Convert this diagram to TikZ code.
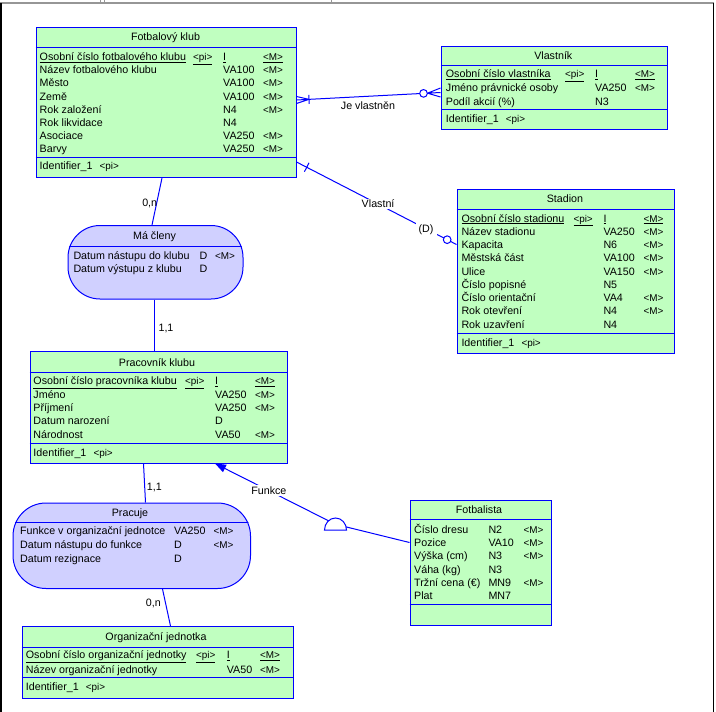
\documentclass[tikz,border=0pt]{standalone}
\usepackage{fontspec}
\setmainfont{Liberation Sans}
\usetikzlibrary{calc,arrows.meta}

\definecolor{erblue}{RGB}{0,0,255}
\definecolor{entfill}{RGB}{192,255,192}
\definecolor{ascfill}{RGB}{208,208,255}
\definecolor{framegray}{RGB}{150,150,150}

\newcommand\erfont{\fontsize{10.7pt}{13pt}\selectfont}
\newcommand\tagfont{\fontsize{9.9pt}{12pt}\selectfont}

\tikzset{
  every node/.style={inner sep=0pt, text height=7.7pt, text depth=0pt, font=\erfont},
  ent/.style={rectangle, draw=erblue, fill=entfill, line width=1pt, anchor=north west},
  asc/.style={rectangle, draw=erblue, fill=ascfill, line width=1pt, anchor=north west, rounded corners=32pt},
  ttl/.style={anchor=center},
  attr/.style={anchor=west},
  sepline/.style={draw=erblue, line width=1pt},
  link/.style={draw=erblue, line width=1pt},
  lbl/.style={fill=white, inner sep=1.5pt, anchor=center},
  card/.style={anchor=center},
  ring/.style={circle, draw=erblue, fill=white, line width=1pt, minimum size=7pt},
}

% one attribute row: id, y, x name, name, x type, type, x tag, tag
\newcommand\errow[8]{%
  \node[attr] (#1-n) at (#3,{#2}) {#4};
  \node[attr] (#1-t) at (#5,{#2}) {#6};
  \node[attr,font=\tagfont] (#1-m) at (#7,{#2}) {#8};}
% primary identifier row: id, y, x name, name, x pi, x type, x tag
\newcommand\keyrow[7]{%
  \node[attr] (#1-n) at (#3,{#2}) {\underline{#4}};
  \node[attr,font=\tagfont] (#1-p) at (#5,{#2}) {\underline{<pi>}};
  \node[attr] (#1-t) at (#6,{#2}) {\underline{I}};
  \node[attr,font=\tagfont] (#1-m) at (#7,{#2}) {\underline{<M>}};}
% identifier list row: id, y, x
\newcommand\idrow[3]{%
  \node[attr] (#1-n) at (#3,{#2}) {Identifier\_1};
  \node[attr,font=\tagfont] (#1-p) at ({#3+60},{#2}) {<pi>};}

\begin{document}
\begin{tikzpicture}[x=1pt,y=-1pt]
\useasboundingbox (0,0) rectangle (716,712);
\fill[white] (0,0) rectangle (716,712);

% window frame
\draw[framegray, line width=1.6pt] (0,3.2) -- (713.5,3.2);
\draw[framegray, line width=0.8pt] (100.5,0) -- (100.5,3) (104,0) -- (104,3) (331.5,0) -- (331.5,3);
\draw[black, line width=1.5pt] (0.75,3) -- (0.75,712);
\draw[black, line width=1.2pt] (713.3,3) -- (713.3,712);

% ---------- Fotbalový klub ----------
\node[ent, minimum width=260pt, minimum height=150.5pt] (fk) at (35.5,26.5) {};
\node[ttl] (fk-title) at (165.5,37) {Fotbalový klub};
\draw[sepline] ([yshift=-21pt]fk.north west) -- ([yshift=-21pt]fk.north east);
\draw[sepline] ([yshift=-131pt]fk.north west) -- ([yshift=-131pt]fk.north east);
\keyrow{fk-k}{56.7}{39.5}{Osobní číslo fotbalového klubu}{193}{223}{263}
\foreach \nm/\ty/\mm [count=\i] in {Název fotbalového klubu/VA100/<M>, Město/VA100/<M>, Země/VA100/<M>, Rok založení/N4/<M>, Rok likvidace/N4/{}, Asociace/VA250/<M>, Barvy/VA250/<M>}
  {\errow{fk-a\i}{56.7+13.2*\i}{39.5}{\nm}{223}{\ty}{263}{\mm}}
\idrow{fk-id}{165.7}{39.5}

% ---------- Vlastník ----------
\node[ent, minimum width=226pt, minimum height=83.5pt] (vl) at (440.5,45.5) {};
\node[ttl] (vl-title) at (553.3,55.5) {Vlastník};
\draw[sepline] ([yshift=-20pt]vl.north west) -- ([yshift=-20pt]vl.north east);
\draw[sepline] ([yshift=-64pt]vl.north west) -- ([yshift=-64pt]vl.north east);
\keyrow{vl-k}{74}{445.7}{Osobní číslo vlastníka}{565}{595}{635}
\foreach \nm/\ty/\mm [count=\i] in {Jméno právnické osoby/VA250/<M>, Podíl akcií (\%)/N3/{}}
  {\errow{vl-a\i}{74+13.6*\i}{445.7}{\nm}{595}{\ty}{635}{\mm}}
\idrow{vl-id}{118.7}{445.7}

% ---------- Stadion ----------
\node[ent, minimum width=217pt, minimum height=164pt] (st) at (456.5,188.5) {};
\node[ttl] (st-title) at (565,199) {Stadion};
\draw[sepline] ([yshift=-21pt]st.north west) -- ([yshift=-21pt]st.north east);
\draw[sepline] ([yshift=-145pt]st.north west) -- ([yshift=-145pt]st.north east);
\keyrow{st-k}{218.3}{461.3}{Osobní číslo stadionu}{573.3}{603.3}{643.3}
\foreach \nm/\ty/\mm [count=\i] in {Název stadionu/VA250/<M>, Kapacita/N6/<M>, Městská část/VA100/<M>, Ulice/VA150/<M>, Číslo popisné/N5/{}, Číslo orientační/VA4/<M>, Rok otevření/N4/<M>, Rok uzavření/N4/{}}
  {\errow{st-a\i}{218.3+13.25*\i}{461.3}{\nm}{603.3}{\ty}{643.3}{\mm}}
\idrow{st-id}{342.7}{461.3}

% ---------- Má členy ----------
\node[asc, minimum width=175pt, minimum height=73.5pt] (mc) at (67.5,225) {};
\begin{scope}
  \clip[rounded corners=32pt] (mc.north west) rectangle (mc.south east);
  \draw[sepline] ([yshift=-21.5pt]mc.north west) -- ([yshift=-21.5pt]mc.north east);
\end{scope}
\node[ttl] (mc-title) at (154.5,236) {Má členy};
\errow{mc-a1}{255.7}{73.3}{Datum nástupu do klubu}{199.3}{D}{215}{<M>}
\errow{mc-a2}{268.7}{73.3}{Datum výstupu z klubu}{199.3}{D}{215}{}

% ---------- Pracovník klubu ----------
\node[ent, minimum width=257pt, minimum height=111.5pt] (pk) at (29.5,351) {};
\node[ttl] (pk-title) at (157,362.3) {Pracovník klubu};
\draw[sepline] ([yshift=-21.5pt]pk.north west) -- ([yshift=-21.5pt]pk.north east);
\draw[sepline] ([yshift=-92.5pt]pk.north west) -- ([yshift=-92.5pt]pk.north east);
\keyrow{pk-k}{381}{33.3}{Osobní číslo pracovníka klubu}{185}{215}{255}
\foreach \nm/\ty/\mm [count=\i] in {Jméno/VA250/<M>, Příjmení/VA250/<M>, Datum narození/D/{}, Národnost/VA50/<M>}
  {\errow{pk-a\i}{381+13.3*\i}{33.3}{\nm}{215}{\ty}{255}{\mm}}
\idrow{pk-id}{452.3}{33.3}

% ---------- Pracuje ----------
\node[asc, minimum width=237.5pt, minimum height=85.5pt, rounded corners=33pt] (pr) at (12.5,502.5) {};
\begin{scope}
  \clip[rounded corners=33pt] (pr.north west) rectangle (pr.south east);
  \draw[sepline] ([yshift=-20pt]pr.north west) -- ([yshift=-20pt]pr.north east);
\end{scope}
\node[ttl] (pr-title) at (130,512.3) {Pracuje};
\foreach \nm/\ty/\mm [count=\i from 0] in {Funkce v organizační jednotce/VA250/<M>, Datum nástupu do funkce/D/<M>, Datum rezignace/D/{}}
  {\errow{pr-a\i}{531+13.65*\i}{20}{\nm}{174}{\ty}{213.3}{\mm}}

% ---------- Fotbalista ----------
\node[ent, minimum width=141pt, minimum height=124.5pt] (fb) at (409.5,500) {};
\node[ttl] (fb-title) at (479,510) {Fotbalista};
\draw[sepline] ([yshift=-19.5pt]fb.north west) -- ([yshift=-19.5pt]fb.north east);
\draw[sepline] ([yshift=-104.5pt]fb.north west) -- ([yshift=-104.5pt]fb.north east);
\foreach \nm/\ty/\mm [count=\i from 0] in {Číslo dresu/N2/<M>, Pozice/VA10/<M>, Výška (cm)/N3/<M>, Váha (kg)/N3/{}, Tržní cena (€)/MN9/<M>, Plat/MN7/{}}
  {\errow{fb-a\i}{529.3+13.34*\i}{414}{\nm}{488.3}{\ty}{523.3}{\mm}}

% ---------- Organizační jednotka ----------
\node[ent, minimum width=271pt, minimum height=71.5pt] (oj) at (21.5,626) {};
\node[ttl] (oj-title) at (156,637) {Organizační jednotka};
\draw[sepline] ([yshift=-21.5pt]oj.north west) -- ([yshift=-21.5pt]oj.north east);
\draw[sepline] ([yshift=-51.5pt]oj.north west) -- ([yshift=-51.5pt]oj.north east);
\keyrow{oj-k}{655}{25.7}{Osobní číslo organizační jednotky}{196}{226.7}{260}
\errow{oj-a1}{669.3}{25.7}{Název organizační jednotky}{226.7}{VA50}{260}{<M>}
\idrow{oj-id}{686.7}{25.7}

% ---------- Fotbalový klub -- Má členy -- Pracovník klubu ----------
\draw[link] ([xshift=126.5pt]fk.south west) -- ([xshift=84.5pt]mc.north west);
\node[card] (c-fk) at (149.7,202.7) {0,n};
\draw[link] ([xshift=87pt]mc.south west) -- ([xshift=125pt]pk.north west);
\node[card] (c-pk1) at (166,327.3) {1,1};

% ---------- Pracovník klubu -- Pracuje -- Organizační jednotka ----------
\draw[link] ([xshift=114pt]pk.south west) -- ([xshift=133pt]pr.north west);
\node[card] (c-pk2) at (154.3,486.7) {1,1};
\draw[link] ([xshift=150pt]pr.south west) -- ([xshift=149pt]oj.north west);
\node[card] (c-oj) at (153.3,602.7) {0,n};

% ---------- Je vlastněn ----------
\coordinate (jv-a) at ([yshift=-73.5pt]fk.north east);
\coordinate (jv-b) at ([yshift=-47pt]vl.north west);
\coordinate (jv-fa) at ($(jv-a)!12.5pt!(jv-b)$);
\coordinate (jv-o) at ($(jv-b)!17pt!(jv-a)$);
\coordinate (jv-fb) at ($(jv-b)!13pt!(jv-a)$);
\draw[link] (jv-fa) -- (jv-o);
\draw[link] (jv-fa) -- ([yshift=3.5pt]jv-a) (jv-fa) -- (jv-a) (jv-fa) -- ([yshift=-3.5pt]jv-a);
\draw[link] ($(jv-fa)!4.5pt!90:(jv-b)$) -- ($(jv-fa)!4.5pt!-90:(jv-b)$);
\draw[link] (jv-fb) -- ([yshift=4.5pt]jv-b) (jv-fb) -- (jv-b) (jv-fb) -- ([yshift=-4.5pt]jv-b);
\node[ring] (jv-ring) at (jv-o) {};
\node[card] (jv-l) at (368,106) {Je vlastněn};

% ---------- Vlastní ----------
\coordinate (vs-a) at ([yshift=-135.5pt]fk.north east);
\coordinate (vs-b) at ([yshift=-56pt]st.north west);
\coordinate (vs-t) at ($(vs-a)!11.5pt!(vs-b)$);
\draw[link] (vs-a) -- (vs-b);
\draw[link] ($(vs-t)!5pt!90:(vs-b)$) -- ($(vs-t)!5pt!-90:(vs-b)$);
\node[lbl] (vs-l) at ($(vs-a)!0.51!(vs-b)$) {Vlastní};
\node[lbl, inner sep=3pt] (vs-d) at ($(vs-a)!0.81!(vs-b)$) {(D)};
\node[ring] (vs-ring) at ($(vs-b)!10.5pt!(vs-a)$) {};

% ---------- Funkce (Fotbalista is a Pracovník klubu) ----------
\coordinate (fu-a) at ([xshift=-72.5pt]pk.south east);
\coordinate (fu-b) at ([yshift=-42.5pt]fb.north west);
\coordinate (fu-c) at (335.5,524.3);
\draw[link] (fu-b) -- (fu-c);
\draw[link, -{Triangle[length=11pt,width=8pt]}] (fu-c) -- (fu-a);
\node[lbl] (fu-l) at ($(fu-a)!0.447!(fu-c)$) {Funkce};
\draw[link, fill=white] ([xshift=-11pt,yshift=-5.7pt]fu-c) arc[start angle=180, end angle=0, x radius=11pt, y radius=12pt] -- cycle;
\end{tikzpicture}
\end{document}
